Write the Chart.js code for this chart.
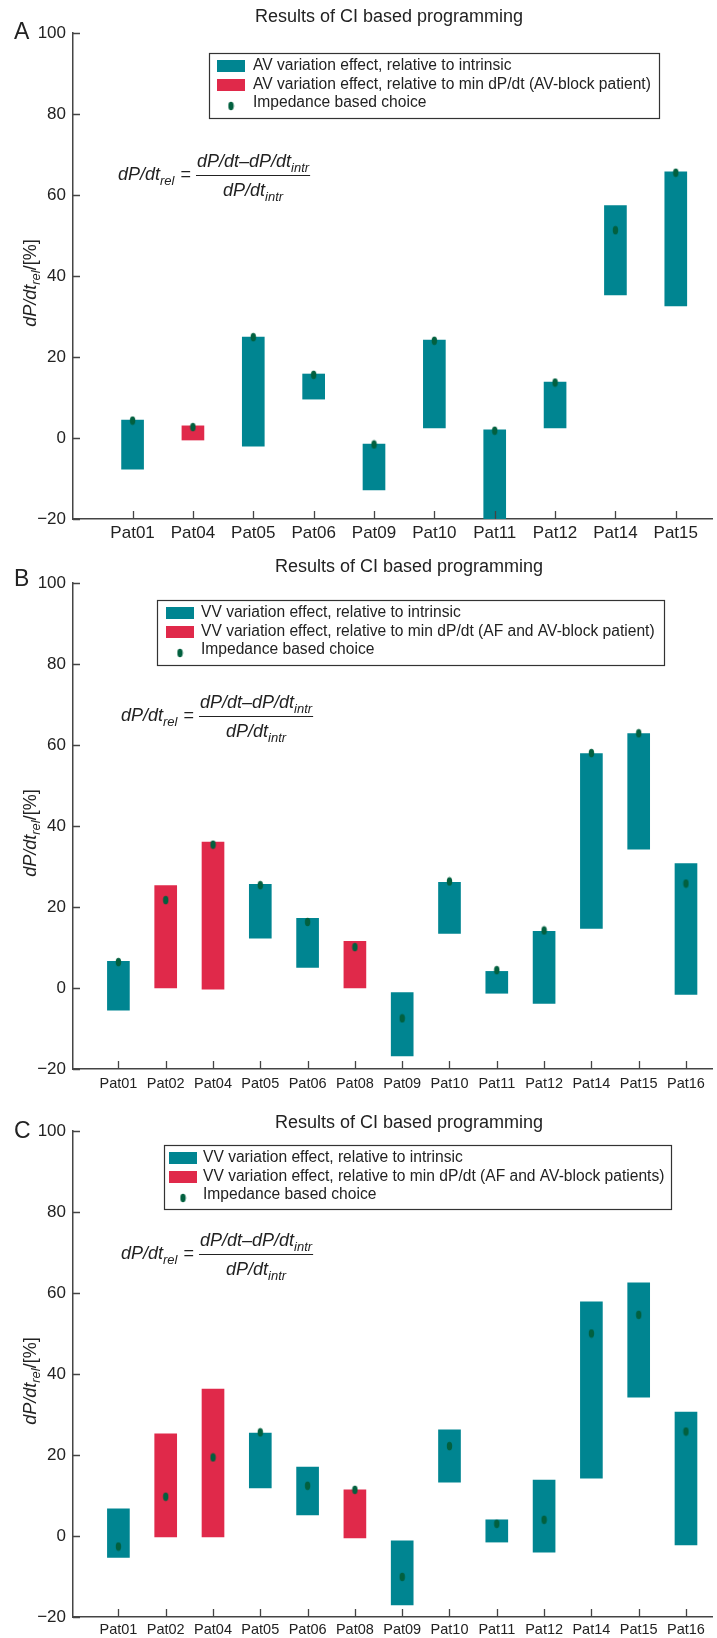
<!DOCTYPE html>
<html>
<head>
<meta charset="utf-8">
<script src="https://cdn.jsdelivr.net/npm/chart.js@4.4.1/dist/chart.umd.min.js"></script>
<style>
  body { margin: 0; background: #fff; width: 717px; height: 1638px; overflow: hidden; }
  canvas { display: block; }
</style>
</head>
<body>
<canvas id="panelA" width="717" height="545"></canvas>
<canvas id="panelB" width="717" height="555"></canvas>
<canvas id="panelC" width="717" height="538"></canvas>
<script>
// ---- data ----
const patientsA = ['Pat01','Pat04','Pat05','Pat06','Pat09','Pat10','Pat11','Pat12','Pat14','Pat15'];
const lowA      = [-7.7, -0.5, -2.0,  9.6, -12.8,  2.5, -21.0,  2.5, 35.3, 32.6];
const highA     = [ 4.4,  3.0, 24.9, 15.8,  -1.5, 24.2,   2.0, 13.8, 57.4, 65.7];
const choiceA   = [ 4.3,  2.7, 24.9, 15.6,  -1.6, 24.0,   1.8, 13.7, 51.3, 65.5];
const minRefA   = [0, 1, 0, 0, 0, 0, 0, 0, 0, 0];

const patientsB = ['Pat01','Pat02','Pat04','Pat05','Pat06','Pat08','Pat09','Pat10','Pat11','Pat12','Pat14','Pat15','Pat16'];
const lowB      = [-5.5,  0.0, -0.3, 12.3,  5.1,  0.0, -16.8, 13.5, -1.3, -3.8, 14.7, 34.3, -1.6];
const highB     = [ 6.6, 25.3, 36.0, 25.6, 17.2, 11.5,  -1.1, 26.1,  4.1, 14.0, 57.9, 62.8, 30.7];
const choiceB   = [ 6.4, 21.7, 35.4, 25.4, 16.3, 10.1,  -7.5, 26.3,  4.4, 14.2, 58.0, 62.9, 25.8];
const minRefB   = [0, 1, 1, 0, 0, 1, 0, 0, 0, 0, 0, 0, 0];

const patientsC = patientsB;
const lowC      = [-5.3, -0.2, -0.2, 11.9,  5.2, -0.5, -17.0, 13.3, -1.5, -4.0, 14.3, 34.3, -2.2];
const highC     = [ 6.7, 25.2, 36.3, 25.4, 17.0, 11.4,  -1.2, 26.2,  4.0, 13.8, 57.8, 62.5, 30.6];
const choiceC   = [-2.6,  9.7, 19.4, 25.6, 12.4, 11.4, -10.1, 22.2,  3.0,  4.0, 50.0, 54.6, 25.8];
const minRefC   = minRefB;

const yMin = -20, yMax = 100, yStep = 20;
const chartTitle = 'Results of CI based programming';
const legendA = ['AV variation effect, relative to intrinsic',
                 'AV variation effect, relative to min dP/dt (AV-block patient)',
                 'Impedance based choice'];
const legendB = ['VV variation effect, relative to intrinsic',
                 'VV variation effect, relative to min dP/dt (AF and AV-block patient)',
                 'Impedance based choice'];
const legendC = ['VV variation effect, relative to intrinsic',
                 'VV variation effect, relative to min dP/dt (AF and AV-block patients)',
                 'Impedance based choice'];

// ---- style ----
const FONT = '"Liberation Sans", Arial, Helvetica, sans-serif';
const TEAL = '#008591', RED = '#e0294a', DOT = '#02603f', AXIS = '#444', TXT = '#222';

function dotImage() {
    const c = document.createElement('canvas');
    c.width = 7; c.height = 10;
    const g = c.getContext('2d');
    g.fillStyle = DOT;
    g.beginPath(); g.ellipse(3.5, 5, 2.7, 4.2, 0, 0, Math.PI * 2); g.fill();
    return c;
}
const DOT_IMG = dotImage();

function measureRich(ctx, parts) {
    let w = 0;
    parts.forEach(p => { ctx.font = p.f; w += ctx.measureText(p.t).width; });
    return w;
}
function drawRich(ctx, parts, x, y) {
    let cx = x;
    parts.forEach(p => {
        ctx.font = p.f;
        ctx.fillText(p.t, cx, y + (p.dy || 0));
        cx += ctx.measureText(p.t).width;
    });
    return cx - x;
}

function drawFormula(ctx, x, yl) {
    const it = 'italic 18px ' + FONT, sub = 'italic 13px ' + FONT, up = '18px ' + FONT;
    ctx.textBaseline = 'alphabetic'; ctx.textAlign = 'left'; ctx.fillStyle = TXT;
    const w = drawRich(ctx, [{t:'dP/dt', f:it}, {t:'rel', f:sub, dy:5}], x, yl + 5);
    ctx.font = up;
    const eqX = x + w + 6;
    ctx.fillText('=', eqX, yl + 5);
    const fx = eqX + ctx.measureText('=').width + 5;
    const num = [{t:'dP/dt\u2013dP/dt', f:it}, {t:'intr', f:sub, dy:5}];
    const den = [{t:'dP/dt', f:it}, {t:'intr', f:sub, dy:5}];
    const nw = measureRich(ctx, num), dw = measureRich(ctx, den);
    const fw = Math.max(nw, dw) + 2;
    ctx.strokeStyle = TXT; ctx.lineWidth = 1;
    ctx.beginPath(); ctx.moveTo(fx, yl + 0.5); ctx.lineTo(fx + fw, yl + 0.5); ctx.stroke();
    drawRich(ctx, num, fx + (fw - nw) / 2, yl - 8);
    drawRich(ctx, den, fx + (fw - dw) / 2, yl + 21);
}

function decor(p, L) {
    return {
        id: 'decor' + L.letter,
        afterDraw(chart) {
            const {ctx, chartArea, scales} = chart;
            ctx.save();
            // inward tick marks
            ctx.strokeStyle = AXIS; ctx.lineWidth = 1.3;
            ctx.beginPath();
            scales.x.ticks.forEach(t => {
                const px = Math.round(scales.x.getPixelForValue(t.value)) + 0.5;
                ctx.moveTo(px, chartArea.bottom); ctx.lineTo(px, chartArea.bottom - 8);
            });
            scales.y.ticks.forEach(t => {
                const py = Math.round(scales.y.getPixelForValue(t.value)) + 0.5;
                ctx.moveTo(chartArea.left, py); ctx.lineTo(chartArea.left + 7, py);
            });
            ctx.stroke();

            // title and panel letter
            ctx.fillStyle = TXT; ctx.textAlign = 'center'; ctx.textBaseline = 'middle';
            ctx.font = '18px ' + FONT;
            ctx.fillText(chartTitle, L.titleX, L.titleY);
            ctx.textAlign = 'left'; ctx.textBaseline = 'alphabetic';
            ctx.font = '23px ' + FONT;
            ctx.fillText(L.letter, 14, L.letterY);

            // y-axis title
            ctx.save();
            const cy = (chartArea.top + chartArea.bottom) / 2 + 7;
            ctx.translate(36, cy); ctx.rotate(-Math.PI / 2);
            const yParts = [{t:'dP/dt', f:'italic 18px ' + FONT}, {t:'rel', f:'italic 13px ' + FONT, dy:4},
                            {t:'/[%]', f:'18px ' + FONT}];
            drawRich(ctx, yParts, -measureRich(ctx, yParts) / 2, 0);
            ctx.restore();

            // legend box
            const b = L.legend;
            ctx.fillStyle = '#fff';
            ctx.fillRect(b.x, b.y, b.w, b.h);
            ctx.strokeStyle = '#333'; ctx.lineWidth = 1.2;
            ctx.strokeRect(b.x + 0.5, b.y + 0.5, b.w, b.h);
            const rows = [13, 32, 50];
            ctx.fillStyle = TEAL; ctx.fillRect(b.x + b.swDx, b.y + rows[0] - 6, 28, 12);
            ctx.fillStyle = RED;  ctx.fillRect(b.x + b.swDx, b.y + rows[1] - 6, 28, 12);
            ctx.drawImage(DOT_IMG, b.x + b.swDx + 14 - 3.5, b.y + rows[2] + 3 - 5);
            ctx.fillStyle = TXT; ctx.textBaseline = 'middle'; ctx.font = '15.6px ' + FONT;
            p.legend.forEach((s, i) => ctx.fillText(s, b.x + b.txDx, b.y + rows[i]));

            // formula
            drawFormula(ctx, L.formula.x, L.formula.y);
            ctx.restore();
        }
    };
}

function buildPanel(id, p, L) {
    const bars = p.patients.map((_, i) => ({x: i + 1, y: [p.low[i], p.high[i]]}));
    const dots = p.patients.map((_, i) => ({x: i + 1, y: p.choice[i]}));
    const axisFont = {family: FONT, size: 17};
    new Chart(document.getElementById(id), {
        type: 'bar',
        data: {
            datasets: [
                { type: 'bar', data: bars, backgroundColor: p.minRef.map(f => f ? RED : TEAL),
                  barThickness: 22, borderWidth: 0, order: 1 },
                { type: 'scatter', data: dots, pointStyle: DOT_IMG, pointRadius: 3, order: 0 }
            ]
        },
        options: {
            responsive: false,
            animation: false,
            events: [],
            layout: { padding: { top: L.top, left: 0, right: 0, bottom: 0 } },
            plugins: { legend: { display: false }, tooltip: { enabled: false } },
            scales: {
                x: {
                    type: 'linear', min: L.xMin, max: L.xMax, offset: false,
                    grid: { display: false, drawTicks: false },
                    border: { display: true, color: AXIS, width: 1.5 },
                    afterBuildTicks: s => { s.ticks = p.patients.map((_, i) => ({value: i + 1})); },
                    afterFit: s => { s.height = L.canvasH - L.bottom; },
                    ticks: {
                        autoSkip: false, maxRotation: 0, padding: L.labelPad, color: TXT,
                        font: {family: FONT, size: L.xFont},
                        callback: v => p.patients[v - 1] ?? ''
                    }
                },
                y: {
                    min: yMin, max: yMax,
                    grid: { display: false, drawTicks: false },
                    border: { display: true, color: AXIS, width: 1.5 },
                    afterFit: s => { s.width = 73; },
                    ticks: {
                        stepSize: yStep, padding: 7, color: TXT, font: axisFont,
                        callback: v => v < 0 ? '\u2212' + Math.abs(v) : String(v)
                    }
                }
            }
        },
        plugins: [decor(p, L)]
    });
}

buildPanel('panelA',
    {patients: patientsA, low: lowA, high: highA, choice: choiceA, minRef: minRefA, legend: legendA},
    {letter: 'A', canvasH: 545, top: 33, bottom: 519, xMin: 0.013, xMax: 10.6, labelPad: 4, xFont: 17,
     titleX: 389, titleY: 17, letterY: 39,
     legend: {x: 209, y: 53, w: 450, h: 65, swDx: 8, txDx: 44}, formula: {x: 118, y: 175}});

buildPanel('panelB',
    {patients: patientsB, low: lowB, high: highB, choice: choiceB, minRef: minRefB, legend: legendB},
    {letter: 'B', canvasH: 555, top: 38, bottom: 524, xMin: 0.04, xMax: 13.55, labelPad: 6, xFont: 14.5,
     titleX: 409, titleY: 22, letterY: 41,
     legend: {x: 157, y: 55, w: 507, h: 65, swDx: 9, txDx: 44}, formula: {x: 121, y: 171}});

buildPanel('panelC',
    {patients: patientsC, low: lowC, high: highC, choice: choiceC, minRef: minRefC, legend: legendC},
    {letter: 'C', canvasH: 538, top: 31, bottom: 517, xMin: 0.04, xMax: 13.55, labelPad: 4, xFont: 14.5,
     titleX: 409, titleY: 23, letterY: 38,
     legend: {x: 164, y: 45, w: 507, h: 64, swDx: 5, txDx: 39}, formula: {x: 121, y: 154}});
</script>
</body>
</html>
